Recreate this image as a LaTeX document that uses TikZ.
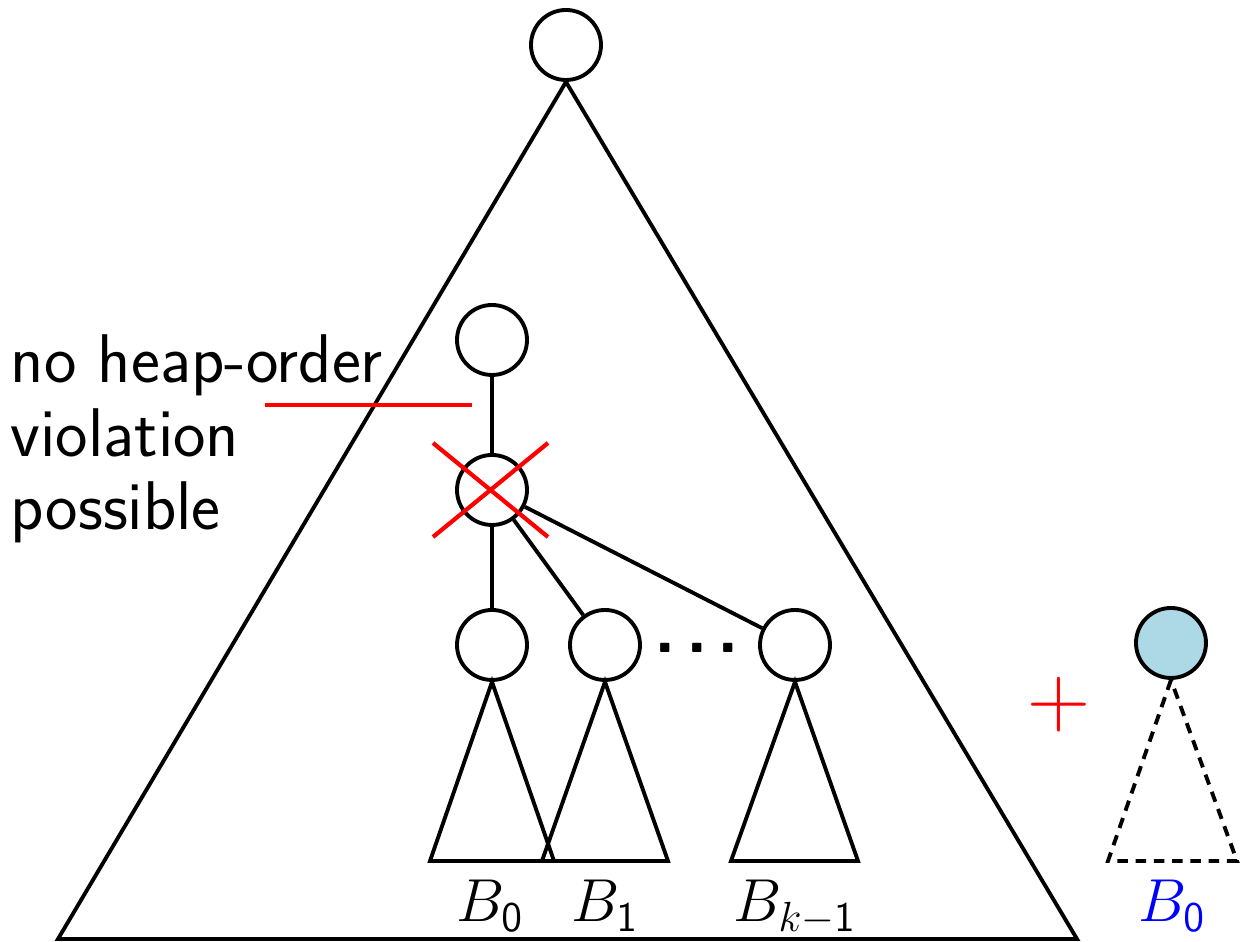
\documentclass[tikz,border=0pt]{standalone}
\usepackage{amsmath,amssymb}
\usepackage{tikz}
\usepackage{xcolor}
\usetikzlibrary{positioning,calc}

\definecolor{nodeblue}{RGB}{173,216,230}

\tikzset{
    heapnode/.style={circle, draw, line width=1.1pt, minimum size=0.7cm, inner sep=0pt},
    subtree/.style={line width=1.1pt, line join=miter},
    violation/.style={red, line width=1.2pt},
    treelabel/.style={anchor=base, font=\fontsize{18}{21}\selectfont},
    sidetext/.style={anchor=base west, inner sep=0pt, font=\sffamily\fontsize{19.6}{22}\selectfont}
}

\begin{document}
\begin{tikzpicture}
            \useasboundingbox (0,0) rectangle (12.4,9.42);

            % root and the whole tree
            \node[heapnode] (root) at (5.66,8.97) {};
            \draw[subtree] (root.south) -- (0.58,0.03) -- (10.77,0.03) -- cycle;

            % parent and the deleted node
            \node[heapnode] (par) at (4.92,6.02) {};
            \node[heapnode] (del) at (4.92,4.52) {};
            \draw[line width=1.1pt] (par) -- (del);

            % children of the deleted node
            \node[heapnode] (c0) at (4.92,2.97) {};
            \node[heapnode] (c1) at (6.05,2.97) {};
            \node[heapnode] (ck) at (7.95,2.97) {};
            \node[anchor=base, inner sep=0pt] (dots) at (6.97,2.89) {\sffamily\bfseries\fontsize{20}{24}\selectfont.\kern2.9pt.\kern2.9pt.};
            \draw[line width=1.1pt] (del) -- (c0);
            \draw[line width=1.1pt] (del) -- (c1);
            \draw[line width=1.1pt] (del) -- (ck);

            % subtrees
            \draw[subtree] (c0.south) -- (4.30,0.81) -- (5.54,0.81) -- cycle;
            \draw[subtree] (c1.south) -- (5.42,0.81) -- (6.68,0.81) -- cycle;
            \draw[subtree] (ck.south) -- (7.31,0.81) -- (8.58,0.81) -- cycle;
            \node[treelabel] (l0) at (4.90,0.20) {$B_{\mathsf{0}}$};
            \node[treelabel] (l1) at (6.05,0.20) {$B_{\mathsf{1}}$};
            \node[treelabel] (lk) at (7.95,0.20) {$B_{k-\mathsf{1}}$};

            % deletion mark
            \draw[violation] (4.33,4.99) -- (5.48,4.05);
            \draw[violation] (4.33,4.05) -- (5.48,4.99);
            \coordinate (cutL) at (2.65,5.37);
            \coordinate (cutR) at (4.72,5.37);
            \draw[violation] (cutL) -- (cutR);

            \node[sidetext] (t1) at (0.10,5.59) {no heap-order};
            \node[sidetext] (t2) at (0.10,4.85) {violation};
            \node[sidetext] (t3) at (0.10,4.12) {possible};

            % the extra B0
            \node[red] (plus) at (10.59,2.37) {\fontsize{23}{26}\selectfont$+$};
            \node[heapnode, fill=nodeblue] (extra) at (11.71,2.99) {};
            \draw[subtree, dash pattern=on 3pt off 2.2pt] (extra.south) -- (11.08,0.81) -- (12.37,0.81) -- cycle;
            \node[treelabel, blue] (lx) at (11.72,0.20) {$B_{\mathsf{0}}$};
        \end{tikzpicture}
\end{document}
